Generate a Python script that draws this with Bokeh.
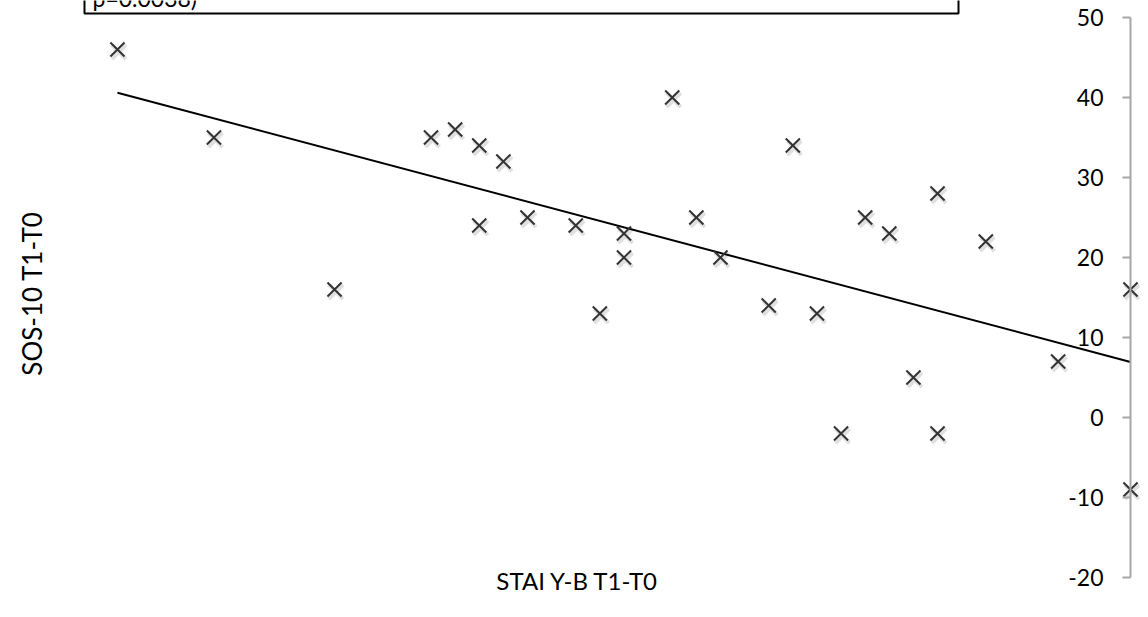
import numpy as np
from bokeh.plotting import figure
from bokeh.models import Range1d, LinearAxis, FixedTicker, Label, BoxAnnotation
from bokeh.embed import file_html
from bokeh.resources import INLINE

# ---- data ----
stai_diff = [-42, -38, -33, -29, -28, -27, -27, -26, -25, -23, -22, -21, -21, -19,
             -18, -17, -15, -14, -13, -12, -11, -10, -9, -8, -8, -6, -3, 0, 0]
sos_diff = [46, 35, 16, 35, 36, 34, 24, 32, 25, 24, 13, 23, 20, 40,
            25, 20, 14, 34, 13, -2, 25, 23, 5, 28, -2, 22, 7, 16, -9]
y_ticks = [-20, -10, 0, 10, 20, 30, 40, 50]
y_tick_labels = ["-20", "-10", "0", "10", "20", "30", "40", "50"]
x_title = "STAI Y-B T1-T0"
y_title = "SOS-10 T1-T0"
box_text = "p=0.0038)"

# ---- layout constants (pixels) ----
W, H = 1140, 609
PX_X = 24.12      # pixels per x unit
PX_Y = 8.0        # pixels per y unit
X0 = 1130         # canvas x of x=0
Y0 = 417          # canvas y of y=0

def px2x(px):
    return (px - X0) / PX_X

def px2y(py):
    return (Y0 - py) / PX_Y

FONT = "Lato"

p = figure(width=W, height=H, output_backend="svg", toolbar_location=None,
           x_axis_type=None, y_axis_type=None,
           x_range=Range1d(px2x(0), px2x(W)), y_range=Range1d(px2y(H), px2y(0)),
           min_border=0, outline_line_color=None, background_fill_color="white",
           border_fill_color="white")

# y axis crossing at x = 0
yaxis = LinearAxis(fixed_location=0, ticker=FixedTicker(ticks=y_ticks),
                   bounds=(min(y_ticks), max(y_ticks)))
yaxis.major_label_overrides = dict(zip(y_ticks, y_tick_labels))
yaxis.axis_line_color = "#a6a6a6"
yaxis.axis_line_width = 2
yaxis.major_tick_line_color = "#a6a6a6"
yaxis.major_tick_line_width = 2
yaxis.major_tick_out = 8
yaxis.major_tick_in = 0
yaxis.minor_tick_out = 0
yaxis.minor_tick_in = 0
yaxis.major_label_standoff = 19
yaxis.major_label_text_font = FONT
yaxis.major_label_text_font_size = "23px"
yaxis.major_label_text_color = "#000000"
p.add_layout(yaxis, "left")

# trend line (least squares fit of the data)
xs = np.array(stai_diff, dtype=float)
ys = np.array(sos_diff, dtype=float)
slope, intercept = np.polyfit(xs, ys, 1)
lx = np.array([xs.min(), xs.max()])
p.line(lx, slope * lx + intercept, line_color="black", line_width=2)

# soft marker shadow (offset a couple of pixels down-right)
p.scatter(xs + 1.5 / PX_X, ys - 2.5 / PX_Y, marker="x", size=20,
          line_color="#000000", line_alpha=0.12, line_width=4)
p.scatter(xs, ys, marker="x", size=20, line_color="#333333", line_width=2)

# text box at the top (cut off by the top edge, as in the reference)
p.add_layout(BoxAnnotation(left=px2x(84), right=px2x(958), bottom=px2y(13), top=px2y(-40),
                           fill_color="white", fill_alpha=1.0,
                           line_color="#000000", line_alpha=1.0, line_width=2))
p.add_layout(Label(x=px2x(92), y=px2y(-3), text=box_text, text_align="left",
                   text_baseline="alphabetic", text_font=FONT,
                   text_font_size="23px", text_color="black"))

# axis titles
p.add_layout(Label(x=px2x(31.5), y=px2y(293), text=y_title, angle=np.pi / 2,
                   text_align="center", text_baseline="middle",
                   text_font=FONT, text_font_size="26px", text_color="black"))
p.add_layout(Label(x=px2x(577), y=px2y(580), text=x_title,
                   text_align="center", text_baseline="middle",
                   text_font=FONT, text_font_size="24px", text_color="black"))

open("out.html", "w").write(file_html(p, INLINE))
